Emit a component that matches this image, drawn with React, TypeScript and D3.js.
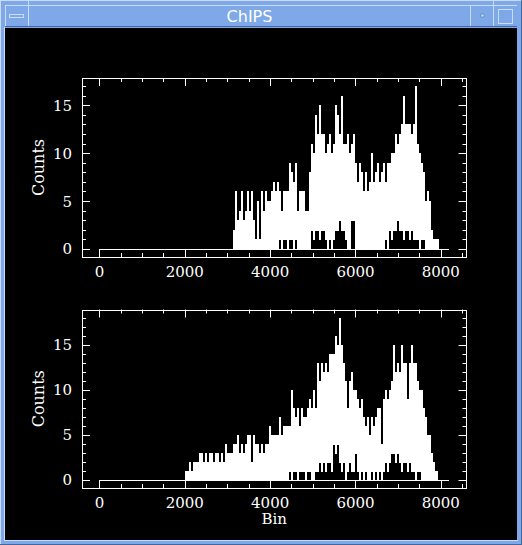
import React from "react";
import * as d3 from "d3";

// ---- Data (counts per group of 47 bins) ----
const NBINS = 8192;
const GROUP = 47;
const topStart = 3125;
const topHi = [2,6,3,4,6,3,4,6,4,6,3,1,5,1,6,4,6,5,5,6,7,6,7,6,4,6,6,6,9,8,7,9,4,6,6,6,4,4,8,11,10,14,12,15,12,12,10,11,12,10,11,15,14,12,16,11,11,12,10,11,12,9,7,9,8,6,8,6,7,10,7,8,9,7,8,9,7,9,9,10,10,12,11,12,13,16,13,13,13,12,13,17,11,10,9,8,5,6,5,2,1,1,1];
const topLo = [0,0,0,0,0,0,0,0,0,0,0,0,0,0,0,0,0,0,0,0,0,0,0,1,0,1,1,0,1,1,0,1,0,0,0,0,0,0,0,2,1,2,2,1,2,2,1,0,1,0,1,2,2,3,2,2,1,0,0,3,3,0,0,0,0,0,0,0,0,0,0,0,0,0,0,0,1,0,2,1,2,2,3,2,2,1,2,2,1,2,1,1,1,0,1,1,0,0,0,0,0,0,0];
const botStart = 2000;
const botHi = [1,1,2,1,2,2,2,3,3,2,3,2,3,3,2,3,3,2,3,2,4,3,3,3,4,4,5,3,4,3,4,5,5,2,5,4,4,3,4,3,4,4,6,5,5,5,5,7,5,6,6,6,6,10,8,7,8,6,8,7,7,8,9,8,10,8,13,11,13,12,13,12,14,14,14,16,15,18,15,13,11,8,11,12,10,10,9,8,9,7,6,7,5,7,6,7,8,8,4,9,10,9,10,11,15,12,13,12,15,13,13,9,13,15,13,13,11,10,10,8,7,5,5,3,2,1];
const botLo = [0,0,0,0,0,0,0,0,0,0,0,0,0,0,0,0,0,0,0,0,0,0,0,0,0,0,0,0,0,0,0,0,0,0,0,0,0,0,0,0,0,0,0,0,0,0,0,0,0,0,0,0,1,0,1,1,0,1,1,1,0,1,1,0,0,1,1,2,1,2,1,2,2,1,4,3,4,2,1,2,0,1,2,1,1,3,1,0,1,0,1,0,0,1,0,1,0,1,0,1,2,1,2,3,3,2,3,2,1,2,2,1,2,1,1,0,1,1,0,0,0,0,0,0,0,0];
const xTicks = [0, 2000, 4000, 6000, 8000];
const yTicks = [0, 5, 10, 15];

const W = 522, H = 545;
const FG = "#ffffff";
const BLUE = "#7ea8e7";
const LIGHT = "#c8dcf8";
const DARK = "#46679e";

type PanelProps = {
  top: number; bottom: number; ymax: number;
  start: number; hi: number[]; lo: number[]; xlabel?: string;
};

function Panel({ top, bottom, ymax, start, hi, lo, xlabel }: PanelProps) {
  const left = 82, right = 466.5;
  const pad = ymax * 0.05;
  const x = d3.scaleLinear().domain([-NBINS * 0.05, NBINS * 1.05]).range([left, right]);
  const y = d3.scaleLinear().domain([-pad, ymax + pad]).range([bottom, top]);
  const minorX = d3.range(0, 8501, 500);
  const minorY = d3.range(0, ymax + 1, 1);
  const font = "'DejaVu Serif', serif";
  return (
    <g>
      {/* baseline of the histogram */}
      <line x1={x(0)} x2={x(NBINS)} y1={Math.round(y(0)) + 0.5} y2={Math.round(y(0)) + 0.5} stroke={FG} strokeWidth={1} />
      {hi.map((h, i) => {
        const x0 = Math.round(x(start + i * GROUP));
        const x1 = Math.round(x(start + (i + 1) * GROUP));
        const yt = Math.round(y(h));
        const yb = Math.round(y(lo[i])) + 1;
        return <rect key={i} x={x0} y={yt} width={Math.max(1, x1 - x0)} height={Math.max(1, yb - yt)} fill={FG} shapeRendering="crispEdges" />;
      })}
      {/* frame */}
      <rect x={left + 0.5} y={top + 0.5} width={right - left - 1} height={bottom - top} fill="none" stroke={FG} strokeWidth={1} shapeRendering="crispEdges" />
      {/* x ticks */}
      {minorX.map((v) => {
        const major = v % 2000 === 0;
        const len = major ? 8 : 4;
        const xx = Math.round(x(v)) + 0.5;
        return (
          <g key={"x" + v}>
            <line x1={xx} x2={xx} y1={bottom} y2={bottom - len} stroke={FG} />
            <line x1={xx} x2={xx} y1={top} y2={top + len} stroke={FG} />
          </g>
        );
      })}
      {minorY.map((v) => {
        const major = v % 5 === 0;
        const len = major ? 8 : 4;
        const yy = Math.round(y(v)) + 0.5;
        return (
          <g key={"y" + v}>
            <line x1={left} x2={left + len} y1={yy} y2={yy} stroke={FG} />
            <line x1={right} x2={right - len} y1={yy} y2={yy} stroke={FG} />
          </g>
        );
      })}
      {xTicks.map((v) => (
        <text key={"xl" + v} x={x(v)} y={bottom + 19.5} textAnchor="middle" fill={FG} fontFamily={font} fontSize={15}>{v}</text>
      ))}
      {yTicks.map((v) => (
        <text key={"yl" + v} x={72} y={y(v) + 5.5} textAnchor="end" fill={FG} fontFamily={font} fontSize={15}>{v}</text>
      ))}
      <text transform={`translate(43.5,${(top + bottom) / 2}) rotate(-90)`} textAnchor="middle" fill={FG} fontFamily={font} fontSize={16}>Counts</text>
      {xlabel && (
        <text x={(left + right) / 2} y={bottom + 36} textAnchor="middle" fill={FG} fontFamily={font} fontSize={15}>{xlabel}</text>
      )}
    </g>
  );
}

export default function App() {
  return (
    <svg width={W} height={H} style={{ position: "absolute", left: 0, top: 0 }}>
      {/* window chrome */}
      <rect x={0} y={0} width={W} height={H} fill={BLUE} />
      <line x1={0} x2={W} y1={0.5} y2={0.5} stroke={LIGHT} />
      <line x1={0.5} x2={0.5} y1={0} y2={H} stroke={LIGHT} />
      <line x1={W - 0.5} x2={W - 0.5} y1={0} y2={H} stroke={DARK} />
      <line x1={0} x2={W} y1={H - 0.5} y2={H - 0.5} stroke={DARK} />
      <line x1={5} x2={517} y1={5.5} y2={5.5} stroke={LIGHT} />
      <line x1={5.5} x2={5.5} y1={5} y2={27} stroke={LIGHT} />
      <line x1={28.5} x2={28.5} y1={0} y2={27} stroke={LIGHT} />
      <line x1={470.5} x2={470.5} y1={5} y2={27} stroke={LIGHT} />
      <line x1={493.5} x2={493.5} y1={0} y2={27} stroke={LIGHT} />
      <line x1={5} x2={517} y1={26.5} y2={26.5} stroke={DARK} />
      <rect x={9.5} y={14.5} width={14} height={3} fill={BLUE} stroke={LIGHT} />
      <rect x={481} y={14} width={3} height={3} fill={LIGHT} stroke={DARK} strokeWidth={0.5} />
      <rect x={498.5} y={9.5} width={14} height={14} fill="none" stroke={LIGHT} />
      <text x={249.5} y={22} textAnchor="middle" fill="#ffffff" fontFamily="'DejaVu Sans', sans-serif" fontSize={16}>ChIPS</text>
      <line x1={4.5} x2={4.5} y1={27} y2={541} stroke={LIGHT} />
      <line x1={4} x2={518} y1={540.5} y2={540.5} stroke={LIGHT} />
      <rect x={5} y={28} width={512} height={512} fill="#000000" />
      <Panel top={78} bottom={257} ymax={17} start={topStart} hi={topHi} lo={topLo} />
      <Panel top={309.5} bottom={488} ymax={18} start={botStart} hi={botHi} lo={botLo} xlabel="Bin" />
    </svg>
  );
}
